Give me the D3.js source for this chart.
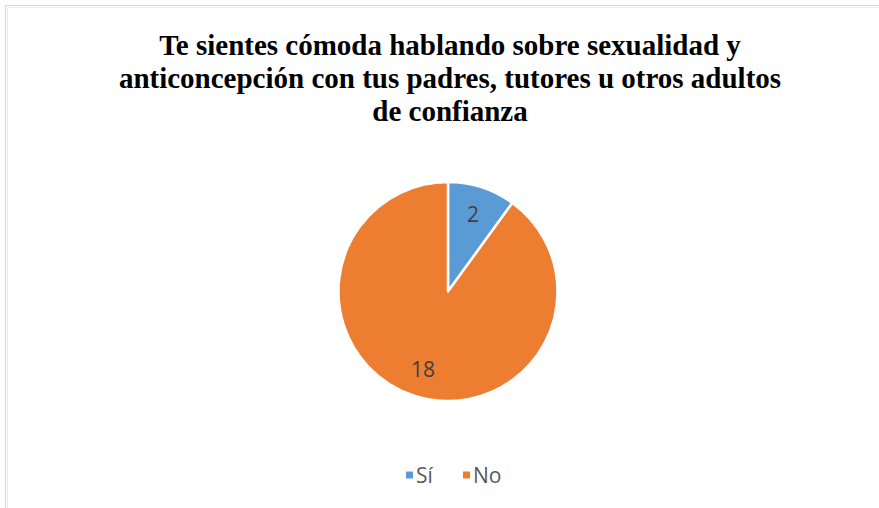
<!DOCTYPE html>
<html>
<head>
<meta charset="utf-8">
<script src="https://cdn.jsdelivr.net/npm/d3@7"></script>
<style>
  html, body { margin: 0; padding: 0; background: #fff; }
  svg { display: block; }
</style>
</head>
<body>
<svg id="chart" width="879" height="508"></svg>
<script>
// Survey answers
const categories = ["Sí", "No"];
const counts = [2, 18];
const colors = ["#5B9BD5", "#ED7D31"];
const titleLines = [
  "Te sientes cómoda hablando sobre sexualidad y",
  "anticoncepción con tus padres, tutores u otros adultos",
  "de confianza"
];

const data = categories.map((c, i) => ({ category: c, value: counts[i] }));

const svg = d3.select("#chart");
const width = 879, height = 508;

// Chart frame
svg.append("path")
  .attr("d", `M5.5,${height} V5.5 H${width}`)
  .attr("fill", "none")
  .attr("stroke", "#d9d9d9")
  .attr("stroke-width", 1);
svg.append("path")
  .attr("d", `M7.5,${height} V7.5 H${width}`)
  .attr("fill", "none")
  .attr("stroke", "#ececec")
  .attr("stroke-width", 1);

// Title
const title = svg.append("text")
  .attr("text-anchor", "middle")
  .attr("font-family", "'Liberation Serif', 'Times New Roman', serif")
  .attr("font-weight", "bold")
  .attr("font-size", 29)
  .attr("fill", "#000");
titleLines.forEach((line, i) => {
  title.append("tspan")
    .attr("x", 450)
    .attr("y", 55 + i * 33)
    .text(line);
});

// Pie
const cx = 448, cy = 291.5, radius = 109.5;
const color = d3.scaleOrdinal().domain(categories).range(colors);
const pie = d3.pie().value(d => d.value).sort(null);
const arc = d3.arc().innerRadius(0).outerRadius(radius);
const labelArc = d3.arc().innerRadius(radius * 0.74).outerRadius(radius * 0.74);

const g = svg.append("g").attr("transform", `translate(${cx},${cy})`);
const arcs = pie(data);

g.selectAll("path.slice")
  .data(arcs)
  .join("path")
  .attr("class", "slice")
  .attr("d", arc)
  .attr("fill", d => color(d.data.category))
  .attr("stroke", "#fff")
  .attr("stroke-width", 2.5)
  .attr("stroke-linejoin", "round");

g.selectAll("text.value")
  .data(arcs)
  .join("text")
  .attr("class", "value")
  .attr("transform", d => `translate(${labelArc.centroid(d)})`)
  .attr("text-anchor", "middle")
  .attr("dominant-baseline", "central")
  .attr("font-family", "'Open Sans', 'Liberation Sans', sans-serif")
  .attr("font-size", 21)
  .attr("fill", "#404040")
  .text(d => d.data.value);

// Legend
const legendX = [406, 463];
const legend = svg.append("g");
categories.forEach((c, i) => {
  const item = legend.append("g").attr("transform", `translate(${legendX[i]},475)`);
  item.append("rect")
    .attr("x", 0).attr("y", -3.5)
    .attr("width", 7).attr("height", 7)
    .attr("fill", color(c));
  item.append("text")
    .attr("x", 10)
    .attr("y", 0)
    .attr("dominant-baseline", "central")
    .attr("font-family", "'Open Sans', 'Liberation Sans', sans-serif")
    .attr("font-size", 21)
    .attr("fill", "#595959")
    .text(c);
});
</script>
</body>
</html>
